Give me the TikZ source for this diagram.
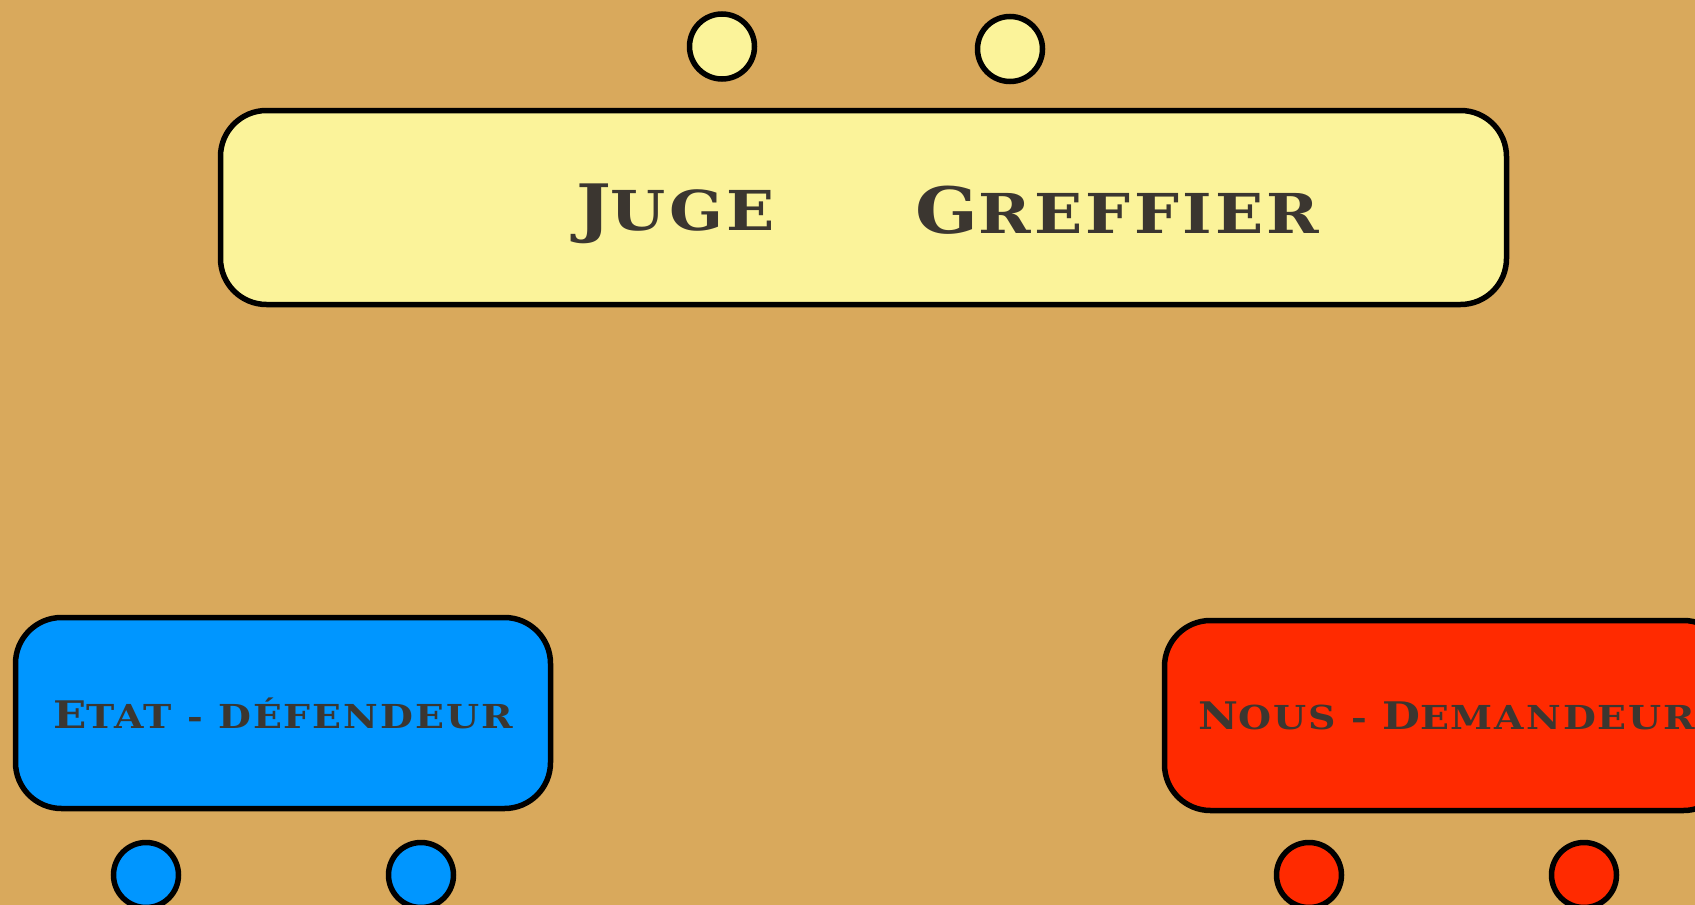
\documentclass[tikz,border=0pt]{standalone}
\usepackage{fontspec}
\usepackage{tikz}
\usetikzlibrary{
  calc,%
  positioning
}
\newfontfamily\copper[FakeStretch=1.15,LetterSpace=6,BoldFont={DejaVu Serif Bold}]{DejaVu Serif}
\definecolor{parchment}{HTML}{D9A95C}
\definecolor{juryyellow}{HTML}{FBF39A}
\definecolor{statblue}{HTML}{0096FF}
\definecolor{usred}{HTML}{FF2A00}
\definecolor{inkgray}{HTML}{3B3630}
\newcommand{\bigcaps}{\fontsize{64}{64}\selectfont}
\newcommand{\lowcaps}{\fontsize{55}{55}\selectfont}
\newcommand{\smbigcaps}{\fontsize{38}{38}\selectfont}
\newcommand{\smlowcaps}{\fontsize{33}{33}\selectfont}
\tikzset{bench/.style={draw=black, line width=5.5pt, rounded corners=46pt, inner sep=0pt}}
\tikzset{seat/.style={circle, draw=black, line width=5.5pt, minimum size=65pt, inner sep=0pt}}
\tikzset{caption/.style={text=inkgray, font=\copper\bfseries}}

\begin{document}
\begin{tikzpicture}[x=1pt, y=-1pt]
          \fill[parchment] (0, 0) rectangle (1695, 905);
          \useasboundingbox (0, 0) rectangle (1695, 905);
          % the bench
          \node[bench, fill=juryyellow, minimum width=1286pt, minimum height=194pt] (court) at (863.5, 207.5) {};
          \node[seat, fill=juryyellow] (judgeseat) at (722, 46.5) {};
          \node[seat, fill=juryyellow] (clerkseat) at (1010, 49) {};
          \node[caption, anchor=base] (juge) at (675.5, 230) {{\bigcaps J}{\lowcaps UGE}};
          \node[caption, anchor=base] (greffier) at (1117.5, 233) {{\bigcaps G}{\lowcaps REFFIER}};
          % the parties
          \node[bench, fill=statblue, caption, minimum width=535pt, minimum height=191pt] (etat) at (283, 713)
          {{\smbigcaps E}{\smlowcaps TAT - DÉFENDEUR}};
          \node[bench, fill=usred, caption, minimum width=565pt, minimum height=190pt] (nous) at (1447, 715.5)
          {{\smbigcaps N}{\smlowcaps OUS - }{\smbigcaps D}{\smlowcaps EMANDEUR}};
          \node[seat, fill=statblue] (etatleft) at (146, 875) {};
          \node[seat, fill=statblue] (etatright) at (421, 875) {};
          \node[seat, fill=usred] (nousleft) at (1309, 875) {};
          \node[seat, fill=usred] (nousright) at (1584, 875) {};
        \end{tikzpicture}
\end{document}
